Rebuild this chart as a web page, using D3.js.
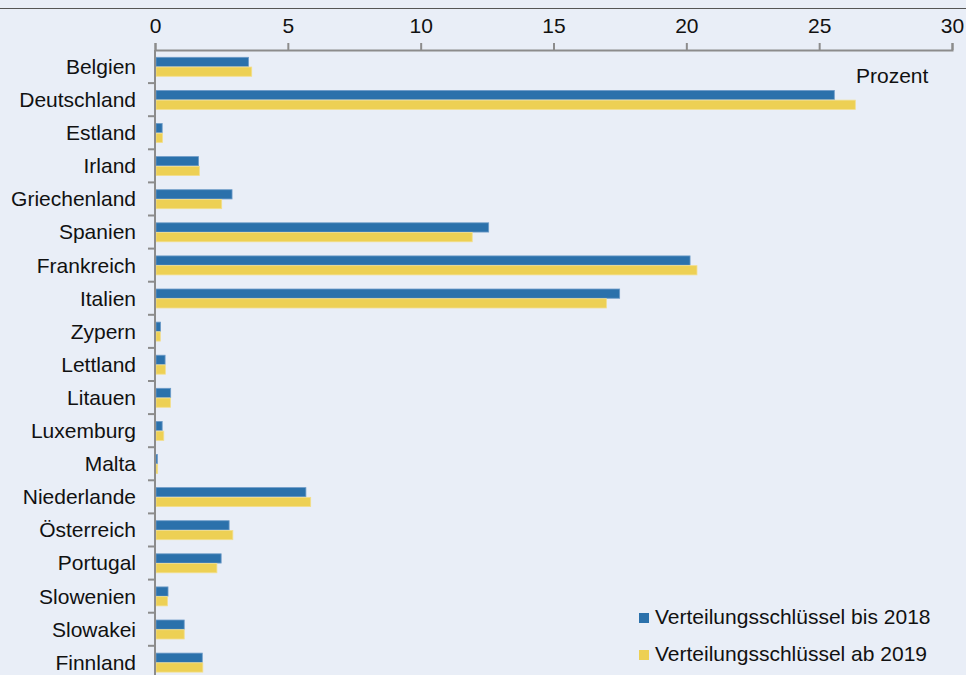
<!DOCTYPE html>
<html>
<head>
<meta charset="utf-8">
<script src="https://cdn.jsdelivr.net/npm/d3@7"></script>
<style>
  body { margin: 0; background: #E9EEF7; }
  svg { display: block; font-family: "Liberation Sans", Arial, sans-serif; }
</style>
</head>
<body>
<svg width="966" height="675"></svg>
<script>
// Länder (Reihenfolge wie im Original)
var laender = ['Belgien', 'Deutschland', 'Estland', 'Irland', 'Griechenland',
    'Spanien', 'Frankreich', 'Italien', 'Zypern', 'Lettland', 'Litauen',
    'Luxemburg', 'Malta', 'Niederlande', 'Österreich', 'Portugal',
    'Slowenien', 'Slowakei', 'Finnland'];

// Prozentwerte
var bis2018 = [3.52, 25.57, 0.27, 1.64, 2.90, 12.56, 20.14, 17.49, 0.21, 0.38,
    0.59, 0.27, 0.09, 5.68, 2.79, 2.49, 0.49, 1.10, 1.78];
var ab2019 = [3.64, 26.36, 0.28, 1.67, 2.51, 11.94, 20.40, 16.99, 0.20, 0.39,
    0.58, 0.33, 0.10, 5.86, 2.93, 2.33, 0.47, 1.10, 1.80];

var serien = ['Verteilungsschlüssel bis 2018', 'Verteilungsschlüssel ab 2019'];
var xTicks = [0, 5, 10, 15, 20, 25, 30];

var farben = ['#2B71AB', '#EDD054'];
var rand = ['#6D9BC8', '#F3DE8C'];

var svg = d3.select('svg');

// Linie oben
svg.append('line')
    .attr('x1', 0).attr('x2', 966)
    .attr('y1', 8.5).attr('y2', 8.5)
    .attr('stroke', '#555').attr('stroke-width', 1);

var x = d3.scaleLinear().domain([0, 30]).range([155, 952]);
var y0 = d3.scaleBand().domain(laender).range([50, 50 + 19 * 33.1]);
var y1 = d3.scaleBand().domain(serien).range([0, y0.bandwidth()]).paddingOuter(0.7);

// x-Achse oben
var xAxis = svg.append('g')
    .attr('transform', 'translate(0,50)')
    .call(d3.axisTop(x).tickValues(xTicks).tickSize(7).tickSizeOuter(7).tickPadding(10));
xAxis.select('.domain').attr('stroke', '#8C8C8C').attr('stroke-width', 2);
xAxis.selectAll('.tick line').attr('stroke', '#8C8C8C').attr('stroke-width', 2);
xAxis.selectAll('.tick text')
    .attr('font-size', 21).attr('fill', '#111')
    .attr('font-family', '"Liberation Sans", Arial, sans-serif');

// Balken
var daten = [];
laender.forEach(function (land, i) {
    daten.push({ land: land, serie: serien[0], wert: bis2018[i], k: 0 });
    daten.push({ land: land, serie: serien[1], wert: ab2019[i], k: 1 });
});

svg.append('g').selectAll('rect')
    .data(daten)
    .enter()
    .append('rect')
    .attr('x', x(0) + 1)
    .attr('y', function (d) { return y0(d.land) + y1(d.serie) + 0.5; })
    .attr('width', function (d) { return x(d.wert) - x(0) - 1; })
    .attr('height', y1.bandwidth() - 0.5)
    .attr('fill', function (d) { return farben[d.k]; })
    .attr('stroke', function (d) { return rand[d.k]; })
    .attr('stroke-width', 0.8);

// y-Achse links
var yg = svg.append('g');
yg.append('line')
    .attr('x1', x(0)).attr('x2', x(0))
    .attr('y1', 50).attr('y2', 680)
    .attr('stroke', '#8C8C8C').attr('stroke-width', 2);
yg.selectAll('.ytick')
    .data(laender)
    .enter()
    .append('line')
    .attr('x1', x(0) - 7).attr('x2', x(0))
    .attr('y1', function (d) { return y0(d) + y0.bandwidth(); })
    .attr('y2', function (d) { return y0(d) + y0.bandwidth(); })
    .attr('stroke', '#8C8C8C').attr('stroke-width', 2);

yg.selectAll('.ylabel')
    .data(laender)
    .enter()
    .append('text')
    .attr('x', 136)
    .attr('y', function (d) { return y0(d) + y0.bandwidth() / 2; })
    .attr('dy', '0.35em')
    .attr('text-anchor', 'end')
    .attr('font-size', 21)
    .attr('fill', '#111')
    .text(function (d) { return d; });

// Einheit
svg.append('text')
    .attr('x', 856).attr('y', 83)
    .attr('font-size', 21).attr('fill', '#111')
    .text('Prozent');

// Legende
var leg = svg.append('g').selectAll('g')
    .data(serien)
    .enter()
    .append('g')
    .attr('transform', function (d, i) { return 'translate(639,' + (613 + i * 37) + ')'; });
leg.append('rect')
    .attr('width', 10).attr('height', 10)
    .attr('fill', function (d, i) { return farben[i]; });
leg.append('text')
    .attr('x', 16).attr('y', 11)
    .attr('font-size', 21).attr('fill', '#111')
    .text(function (d) { return d; });
</script>
</body>
</html>
